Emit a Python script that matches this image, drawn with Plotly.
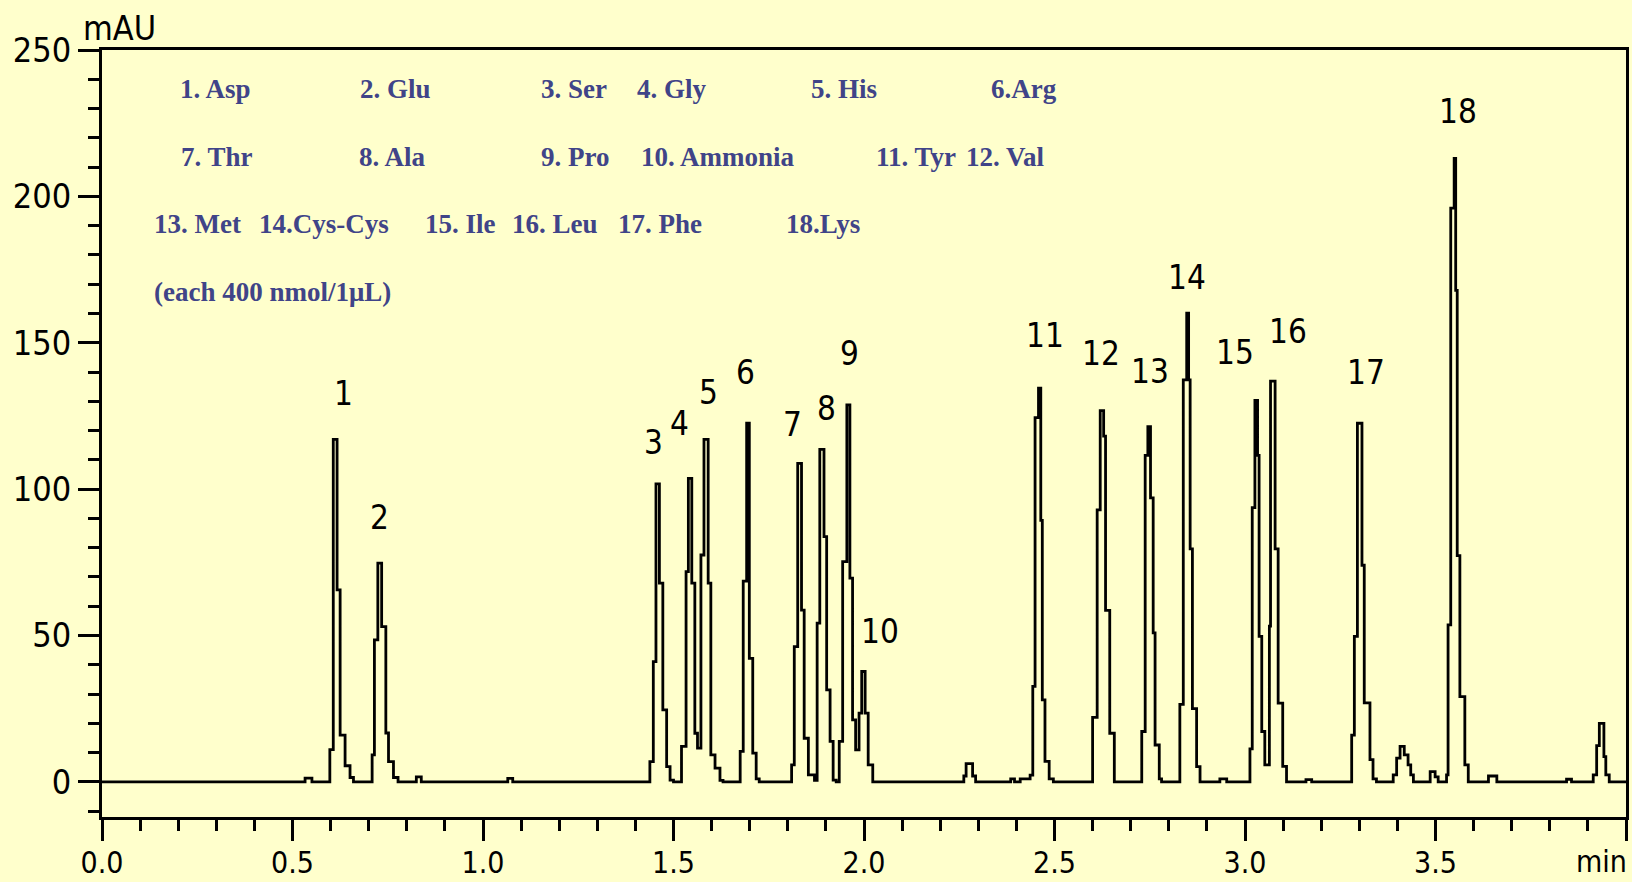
import plotly.graph_objects as go

# ---------------- data ----------------
time_min = [
    0.000, 0.533, 0.551,
    0.598, 0.607, 0.617, 0.625, 0.638, 0.651, 0.660,
    0.709, 0.715, 0.724, 0.734, 0.745, 0.752, 0.765, 0.777,
    0.825, 0.838, 1.065, 1.078,
    1.438, 1.447, 1.454, 1.463, 1.472, 1.482, 1.491, 1.500,
    1.521, 1.533, 1.539, 1.548, 1.556, 1.563,
    1.572, 1.580, 1.591, 1.598, 1.609, 1.622, 1.630,
    1.675, 1.683, 1.692, 1.699, 1.708, 1.717, 1.725,
    1.810, 1.817, 1.826, 1.836, 1.843, 1.854, 1.870,
    1.877, 1.884, 1.895, 1.902, 1.911, 1.919, 1.927,
    1.935, 1.944, 1.955, 1.963, 1.970, 1.978,
    1.987, 1.994, 2.003, 2.011, 2.023,
    2.262, 2.268, 2.285, 2.293, 2.385, 2.395, 2.410, 2.436,
    2.443, 2.449, 2.458, 2.464, 2.468, 2.475, 2.486, 2.497,
    2.600, 2.612, 2.620, 2.629, 2.634, 2.645, 2.657,
    2.729, 2.738, 2.745, 2.752, 2.759, 2.764, 2.775, 2.781,
    2.829, 2.838, 2.847, 2.852, 2.856, 2.862, 2.873, 2.882,
    2.934, 2.952,
    3.013, 3.019, 3.026, 3.033, 3.037, 3.044, 3.052,
    3.064, 3.067, 3.079, 3.087, 3.099, 3.109,
    3.160, 3.175,
    3.280, 3.287, 3.295, 3.307, 3.313, 3.328, 3.336, 3.345,
    3.389, 3.398, 3.407, 3.418, 3.428, 3.435, 3.442,
    3.486, 3.499, 3.507,
    3.529, 3.533, 3.540, 3.549, 3.553, 3.557, 3.564, 3.577, 3.586,
    3.639, 3.661, 3.844, 3.857,
    3.914, 3.923, 3.930, 3.942, 3.947, 3.956, 4.000,
]
signal_mAU = [
    0, 1.3, 0,
    11, 117, 65.6, 16, 5.5, 1.5, 0,
    9.2, 48.5, 74.7, 53, 16.7, 6.9, 1.5, 0,
    1.7, 0, 1.2, 0,
    6.9, 41.1, 101.8, 67.9, 24.6, 5.2, 0.6, 0,
    12.1, 71.8, 103.7, 67.9, 16.6, 11.5,
    77.5, 117, 67.9, 9.2, 4.7, 0.5, 0,
    10.4, 68.6, 122.5, 42.2, 9.8, 1.0, 0,
    5.8, 46.2, 108.8, 58.7, 14.9, 2.4, 0.5,
    54.2, 113.6, 83.8, 31.4, 13.8, 0.6, 0,
    13.8, 75.2, 128.8, 69.6, 21.2, 10.9,
    23.5, 37.7, 23.5, 5.8, 0,
    2.0, 6.2, 2.0, 0, 1.0, 0, 1.0, 2.3,
    32.6, 124.4, 134.5, 89.3, 28.0, 7.0, 1.0, 0,
    22.0, 92.9, 126.8, 118.1, 58.6, 16.6, 0,
    17.2, 111.5, 121.3, 97.0, 50.9, 12.6, 1.0, 0,
    26.5, 137.3, 160.1, 137.3, 79.6, 25.0, 5.2, 0,
    1.0, 0,
    11.3, 93.7, 130.3, 111.5, 49.7, 17.2, 5.8,
    53.2, 136.9, 79.6, 26.9, 5.3, 0,
    0.8, 0,
    16.0, 49.7, 122.5, 74.0, 27.0, 7.6, 1.0, 0,
    2.4, 8.1, 12.1, 9.2, 5.8, 2.4, 0,
    3.5, 1.7, 0,
    2.4, 53.6, 196, 213, 167.9, 77.3, 29.1, 5.8, 0,
    2.0, 0, 0.9, 0,
    2.4, 12.4, 20.0, 8.6, 2.4, 0, 0,
]

peak_numbers = [str(i) for i in range(1, 19)]
peak_rt = [0.612, 0.729, 1.458, 1.543, 1.585, 1.695, 1.831, 1.889, 1.959,
           1.998, 2.461, 2.624, 2.748, 2.849, 3.026, 3.070, 3.300, 3.551]
peak_height = [117, 74.7, 101.8, 103.7, 117, 122.5, 108.8, 113.6, 128.8,
               37.7, 134.5, 126.8, 121.3, 160.1, 130.3, 136.9, 122.5, 213]

x_ticks = [0.0, 0.5, 1.0, 1.5, 2.0, 2.5, 3.0, 3.5, 4.0]
x_tick_labels = ["0.0", "0.5", "1.0", "1.5", "2.0", "2.5", "3.0", "3.5", ""]
y_ticks = [0, 50, 100, 150, 200, 250]
y_tick_labels = ["0", "50", "100", "150", "200", "250"]

legend_row1 = ["1. Asp", "2. Glu", "3. Ser", "4. Gly", "5. His", "6.Arg"]
legend_row2 = ["7. Thr", "8. Ala", "9. Pro", "10. Ammonia", "11. Tyr", "12. Val"]
legend_row3 = ["13. Met", "14.Cys-Cys", "15. Ile", "16. Leu", "17. Phe", "18.Lys"]
legend_row4 = ["(each 400 nmol/1μL)"]

# ---------------- layout / style ----------------
W, H = 1632, 882
L, R, T, B = 102, 1626, 50, 817  # plot area in pixels
BG = "#FFFFCC"
INK = "#404488"
NUM_FONT = "'DejaVu Sans Condensed', 'Liberation Sans Narrow', 'DejaVu Sans', sans-serif"
LEG_FONT = "'Liberation Serif', 'DejaVu Serif', serif"


def px(xp, yp):
    return (xp - L) / (R - L), (B - yp) / (B - T)


legend_x = [
    [178, 358, 539, 635, 809, 989],
    [179, 357, 539, 639, 874, 964],
    [152, 257, 423, 510, 616, 784],
    [152],
]
legend_y = [89, 157, 224, 292]

label_dx = [8, 0, -4, -10, 3, -2, -7, 5, 1, 17, 5, -1, 1, 0, -20, 16, 7, 3]
label_dy = [46, 46, 41, 55, 47, 51, 39, 41, 51, 40, 53, 57, 55, 36, 48, 50, 51, 47]

fig = go.Figure()
fig.add_trace(go.Scatter(
    x=time_min, y=signal_mAU, mode="lines",
    line=dict(color="black", width=2.8, shape="hv"),
    hoverinfo="skip", showlegend=False,
))

annotations = []
for name, rt, h, dx, dy in zip(peak_numbers, peak_rt, peak_height, label_dx, label_dy):
    annotations.append(dict(
        x=rt, y=h, xref="x", yref="y", text=name, showarrow=False,
        xanchor="center", yanchor="middle", xshift=dx, yshift=dy,
        font=dict(family=NUM_FONT, size=33, color="black"),
    ))

rows = [legend_row1, legend_row2, legend_row3, legend_row4]
for row, xs, yy in zip(rows, legend_x, legend_y):
    for txt, xx in zip(row, xs):
        ax, ay = px(xx, yy)
        annotations.append(dict(
            x=ax, y=ay, xref="paper", yref="paper", text="<b>%s</b>" % txt,
            showarrow=False, xanchor="left", yanchor="middle",
            font=dict(family=LEG_FONT, size=27, color=INK),
        ))

ax, ay = px(81, 28)
annotations.append(dict(x=ax, y=ay, xref="paper", yref="paper", text="mAU",
                        showarrow=False, xanchor="left", yanchor="middle",
                        font=dict(family=NUM_FONT, size=34, color="black")))
ax, ay = px(1629, 862)
annotations.append(dict(x=ax, y=ay, xref="paper", yref="paper", text="min",
                        showarrow=False, xanchor="right", yanchor="middle",
                        font=dict(family=NUM_FONT, size=30, color="black")))

fig.update_layout(
    width=W, height=H, autosize=False,
    margin=dict(l=L, r=W - R, t=T, b=H - B, pad=0, autoexpand=False),
    paper_bgcolor=BG, plot_bgcolor=BG,
    annotations=annotations,
    showlegend=False,
)
fig.update_xaxes(
    range=[0, 4.0], tickmode="array", tickvals=x_ticks, ticktext=x_tick_labels,
    automargin=False, ticklabelstandoff=-4,
    ticks="outside", ticklen=21, tickwidth=3, tickcolor="black",
    showline=True, linewidth=3, linecolor="black", mirror=True,
    showgrid=False, zeroline=False,
    tickfont=dict(family=NUM_FONT, size=30, color="black"),
    minor=dict(dtick=0.1, tick0=0, ticks="outside", ticklen=11, tickwidth=3,
               tickcolor="black", showgrid=False),
)
fig.update_yaxes(
    range=[-12, 250], tickmode="array", tickvals=y_ticks, ticktext=y_tick_labels,
    automargin=False,
    ticks="outside", ticklen=21, tickwidth=3, tickcolor="black",
    showline=True, linewidth=3, linecolor="black", mirror=True,
    showgrid=False, zeroline=False,
    tickfont=dict(family=NUM_FONT, size=34, color="black"),
    minor=dict(dtick=10, tick0=0, ticks="outside", ticklen=11, tickwidth=3,
               tickcolor="black", showgrid=False),
)

fig.write_html("out.html", config={"displayModeBar": False},
               post_script="document.body.style.margin='0';document.body.style.overflow='hidden';")
